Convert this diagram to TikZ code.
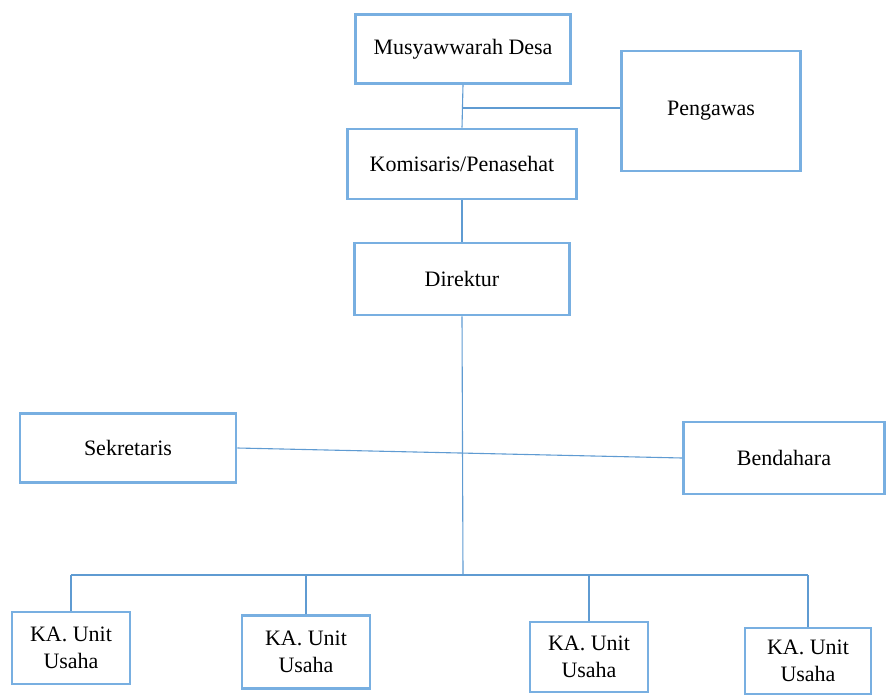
\documentclass[tikz,border=0pt]{standalone}
\usepackage{fontspec}
\setmainfont{Liberation Serif}
\definecolor{boxblue}{RGB}{120,175,225}
\definecolor{lineblue}{RGB}{95,155,210}
\tikzset{
  jabatan/.style = {draw=boxblue, line width=2.6pt, fill=white, align=center,
    inner sep=0pt, font=\fontsize{22}{27}\selectfont},
  garis/.style = {draw=lineblue, line width=1.1pt}
}

\begin{document}
\begin{tikzpicture}[x=1pt, y=-1pt]
\useasboundingbox (0,0) rectangle (886,696);
\node[jabatan, minimum width=215pt, minimum height=69pt] (musdes) at (463,49) {Musyawwarah Desa};
\node[jabatan, minimum width=179pt, minimum height=120pt] (pengawas) at (711,111) {Pengawas};
\node[jabatan, minimum width=229pt, minimum height=70pt] (komisaris) at (462,164) {Komisaris/Penasehat};
\node[jabatan, minimum width=215pt, minimum height=72pt] (direktur) at (462,279) {Direktur};
\node[jabatan, minimum width=216pt, minimum height=69pt] (sekretaris) at (128,448) {Sekretaris};
\node[jabatan, minimum width=201pt, minimum height=72pt] (bendahara) at (784,458) {Bendahara};
\node[jabatan, minimum width=118pt, minimum height=72pt] (unitA) at (71,648) {KA. Unit\\Usaha};
\node[jabatan, minimum width=128pt, minimum height=73pt] (unitB) at (306,652) {KA. Unit\\Usaha};
\node[jabatan, minimum width=118pt, minimum height=70pt] (unitC) at (589,657) {KA. Unit\\Usaha};
\node[jabatan, minimum width=126pt, minimum height=66pt] (unitD) at (808,661) {KA. Unit\\Usaha};

\coordinate (cabang) at (463,108);
\coordinate (bus) at (463,575);

\draw[garis] (musdes.south) -- (komisaris.north);
\draw[garis] (cabang) -- (cabang -| pengawas.west);
\draw[garis] (komisaris.south) -- (direktur.north);
\draw[garis] (direktur.south) -- (bus);
\draw[garis] (sekretaris.east) -- (bendahara.west);
\draw[garis] (unitA.north |- bus) -- (unitD.north |- bus);
\foreach \u in {unitA,unitB,unitC,unitD}
  \draw[garis] (\u.north) -- (\u.north |- bus);
\end{tikzpicture}
\end{document}
